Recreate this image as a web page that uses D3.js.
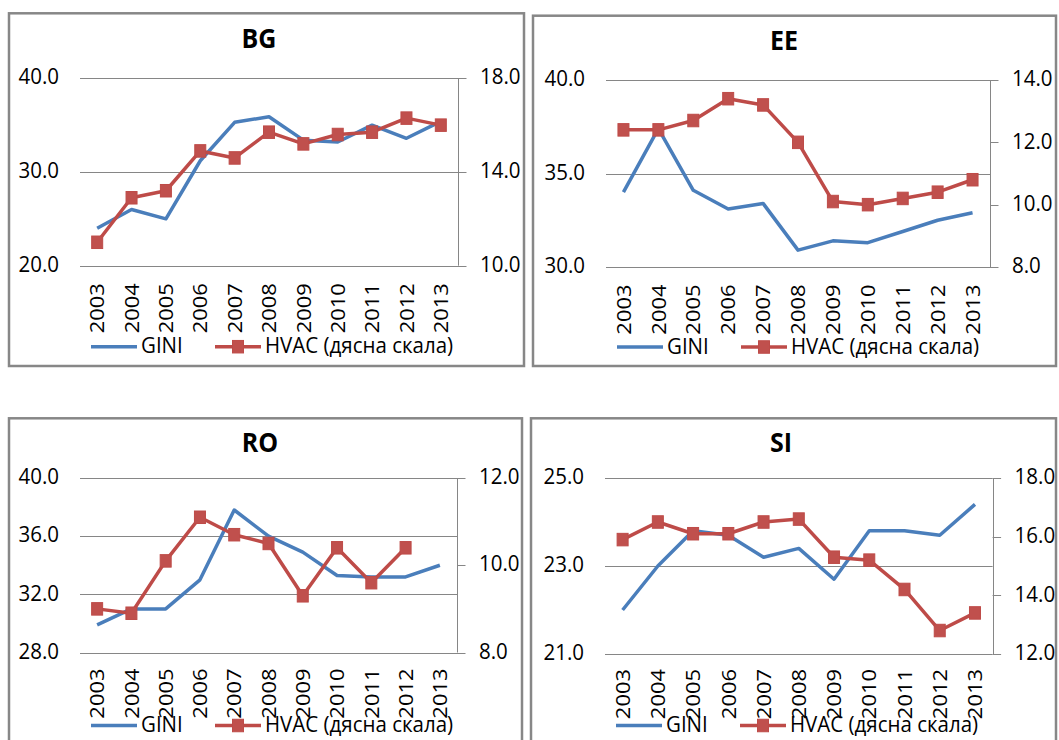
<!DOCTYPE html>
<html>
<head>
<meta charset="utf-8">
<script src="https://cdn.jsdelivr.net/npm/d3@7"></script>
<style>
  html, body { margin: 0; padding: 0; background: #fff; }
  svg { display: block; }
  text { font-family: "Open Sans", "Noto Sans", sans-serif; fill: #000; }
</style>
</head>
<body>
<svg id="chart" width="1059" height="740"></svg>
<script>
// ---- data ----
const years = [2003, 2004, 2005, 2006, 2007, 2008, 2009, 2010, 2011, 2012, 2013];

const giniBG = [24.0, 26.0, 25.0, 31.2, 35.3, 35.9, 33.4, 33.2, 35.0, 33.6, 35.4];
const hvacBG = [11.0, 12.9, 13.2, 14.9, 14.6, 15.7, 15.2, 15.6, 15.7, 16.3, 16.0];

const giniEE = [34.0, 37.4, 34.1, 33.1, 33.4, 30.9, 31.4, 31.3, 31.9, 32.5, 32.9];
const hvacEE = [12.4, 12.4, 12.7, 13.4, 13.2, 12.0, 10.1, 10.0, 10.2, 10.4, 10.8];

const giniRO = [29.9, 31.0, 31.0, 33.0, 37.8, 36.0, 34.9, 33.3, 33.2, 33.2, 34.0];
const hvacRO = [9.0, 8.9, 10.1, 11.1, 10.7, 10.5, 9.3, 10.4, 9.6, 10.4, null];

const giniSI = [22.0, 23.0, 23.8, 23.7, 23.2, 23.4, 22.7, 23.8, 23.8, 23.7, 24.4];
const hvacSI = [15.9, 16.5, 16.1, 16.1, 16.5, 16.6, 15.3, 15.2, 14.2, 12.8, 13.4];

const leftTicksBG = [20, 30, 40],      rightTicksBG = [10, 14, 18];
const leftTicksEE = [30, 35, 40],      rightTicksEE = [8, 10, 12, 14];
const leftTicksRO = [28, 32, 36, 40],  rightTicksRO = [8, 10, 12];
const leftTicksSI = [21, 23, 25],      rightTicksSI = [12, 14, 16, 18];

const seriesNames = ["GINI", "HVAC (дясна скала)"];

// ---- layout ----
const panels = [
  { title: "BG", gini: giniBG, hvac: hvacBG, lt: leftTicksBG, rt: rightTicksBG,
    frame: [9, 13.3, 524, 366], plot: { l: 80, r: 458, t: 78.3, b: 265.7 },
    yearGap: 17.5, titleX: 259, titleY: 47.5, legendY: 346.7 },
  { title: "EE", gini: giniEE, hvac: hvacEE, lt: leftTicksEE, rt: rightTicksEE,
    frame: [533, 15.7, 1056, 366], plot: { l: 606, r: 990, t: 80, b: 267 },
    yearGap: 17.5, titleX: 784, titleY: 49.5, legendY: 347 },
  { title: "RO", gini: giniRO, hvac: hvacRO, lt: leftTicksRO, rt: rightTicksRO,
    frame: [9, 418.3, 522, 780], plot: { l: 80, r: 457, t: 478, b: 652.5 },
    yearGap: 16, titleX: 260, titleY: 451.5, legendY: 725.5 },
  { title: "SI", gini: giniSI, hvac: hvacSI, lt: leftTicksSI, rt: rightTicksSI,
    frame: [531, 418.3, 1056, 780], plot: { l: 605, r: 992.6, t: 478, b: 654 },
    yearGap: 15, titleX: 781, titleY: 451.5, legendY: 725.5 }
];

const SY = 1.07;              // text is drawn slightly taller than wide
const FS = 20.5;              // base font size
const blue = "#4A7EBB";
const red = "#BE4B48";
const redFill = "#C0504D";
const gridColor = "#868686";
const fmt = d3.format(".1f");

const svg = d3.select("#chart");

// text placed at (x, y) with a vertical stretch
function label(parent, x, y, str, opt) {
  const o = Object.assign({ size: FS, anchor: "start", weight: "normal", rotate: 0, dy: "0.35em" }, opt || {});
  const g = parent.append("g")
    .attr("transform", `translate(${x},${y}) scale(1,${SY})` + (o.rotate ? ` rotate(${o.rotate})` : ""));
  return g.append("text")
    .attr("text-anchor", o.anchor)
    .attr("dy", o.dy)
    .style("font-size", o.size + "px")
    .style("font-weight", o.weight)
    .text(str);
}

function marker(parent, x, y) {
  const w = 11, h = 12.5;
  parent.append("rect")
    .attr("x", x - w / 2).attr("y", y - h / 2)
    .attr("width", w).attr("height", h)
    .attr("fill", redFill).attr("stroke", red).attr("stroke-width", 1);
}

panels.forEach(p => {
  const g = svg.append("g");
  const [fx0, fy0, fx1, fy1] = p.frame;

  // chart frame
  g.append("rect")
    .attr("x", fx0).attr("y", fy0)
    .attr("width", fx1 - fx0).attr("height", fy1 - fy0)
    .attr("fill", "#fff").attr("stroke", "#878787").attr("stroke-width", 2.5);

  const x = d3.scaleBand().domain(years).range([p.plot.l, p.plot.r]);
  const yL = d3.scaleLinear().domain(d3.extent(p.lt)).range([p.plot.b, p.plot.t]);
  const yR = d3.scaleLinear().domain(d3.extent(p.rt)).range([p.plot.b, p.plot.t]);
  const cx = d => x(d) + x.bandwidth() / 2;

  // horizontal gridlines on the left scale
  g.append("g").selectAll("line").data(p.lt).join("line")
    .attr("x1", p.plot.l).attr("x2", p.plot.r)
    .attr("y1", d => Math.round(yL(d)) + 0.5).attr("y2", d => Math.round(yL(d)) + 0.5)
    .attr("stroke", gridColor).attr("stroke-width", 1);

  // right axis line and outward ticks
  const ra = g.append("g");
  ra.append("line")
    .attr("x1", Math.round(p.plot.r) + 0.5).attr("x2", Math.round(p.plot.r) + 0.5)
    .attr("y1", p.plot.t).attr("y2", p.plot.b)
    .attr("stroke", gridColor).attr("stroke-width", 1);
  ra.selectAll("line.tick").data(p.rt).join("line").attr("class", "tick")
    .attr("x1", p.plot.r).attr("x2", p.plot.r + 8.5)
    .attr("y1", d => Math.round(yR(d)) + 0.5).attr("y2", d => Math.round(yR(d)) + 0.5)
    .attr("stroke", gridColor).attr("stroke-width", 1);

  // tick labels
  p.lt.forEach(v => label(g, p.plot.l - 21, yL(v) - 1.5, fmt(v), { anchor: "end" }));
  p.rt.forEach(v => label(g, p.plot.r + 22, yR(v) - 1.5, fmt(v), { anchor: "start" }));
  years.forEach(yr => label(g, cx(yr), p.plot.b + p.yearGap, String(yr), { anchor: "end", rotate: -90 }));

  // title
  label(g, p.titleX, p.titleY, p.title, { anchor: "middle", size: 25, weight: "bold", dy: 0 });

  // series
  const gLine = d3.line().defined(d => d[1] != null).x(d => cx(d[0]));
  g.append("path")
    .datum(years.map((yr, i) => [yr, p.gini[i]]))
    .attr("d", gLine.y(d => yL(d[1])))
    .attr("fill", "none").attr("stroke", blue).attr("stroke-width", 3.5)
    .attr("stroke-linejoin", "round");

  const hPts = years.map((yr, i) => [yr, p.hvac[i]]);
  const hLine = d3.line().defined(d => d[1] != null).x(d => cx(d[0])).y(d => yR(d[1]));
  g.append("path")
    .datum(hPts)
    .attr("d", hLine)
    .attr("fill", "none").attr("stroke", red).attr("stroke-width", 3.5)
    .attr("stroke-linejoin", "round");
  hPts.filter(d => d[1] != null).forEach(d => marker(g, cx(d[0]), yR(d[1])));

  // legend
  const ly = p.legendY;
  g.append("line")
    .attr("x1", p.plot.l + 11).attr("x2", p.plot.l + 57)
    .attr("y1", ly).attr("y2", ly)
    .attr("stroke", blue).attr("stroke-width", 3.5);
  label(g, p.plot.l + 61, ly - 1, seriesNames[0]);
  g.append("line")
    .attr("x1", p.plot.l + 135).attr("x2", p.plot.l + 181)
    .attr("y1", ly).attr("y2", ly)
    .attr("stroke", red).attr("stroke-width", 3.5);
  marker(g, p.plot.l + 158, ly);
  label(g, p.plot.l + 185, ly - 1, seriesNames[1]);
});
</script>
</body>
</html>
